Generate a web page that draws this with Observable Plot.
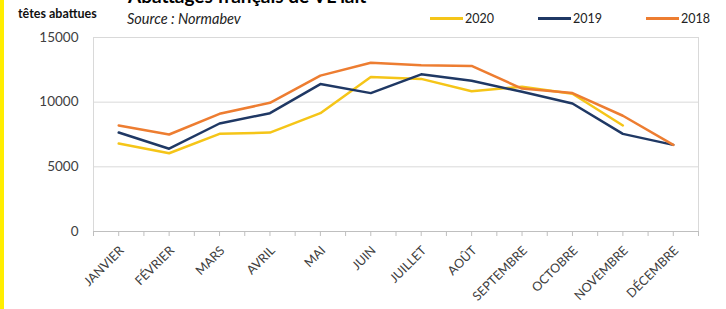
<!DOCTYPE html>
<html>
<head>
<meta charset="utf-8">
<script src="https://cdn.jsdelivr.net/npm/d3@7"></script>
<script src="https://cdn.jsdelivr.net/npm/@observablehq/plot@0.6"></script>
<style>
  html, body { margin: 0; padding: 0; background: #fff; }
  #wrap { position: relative; width: 726px; height: 309px; overflow: hidden; font-family: Lato, "Open Sans", sans-serif; }
  #bar { position: absolute; left: 0; top: 0; width: 4px; height: 309px; background: #ffee00; z-index: 2; }
  .abs { position: absolute; white-space: nowrap; z-index: 2; }
  #title { left: 128px; top: -16px; font-size: 19px; font-weight: bold; color: #000; }
  #unit { left: 18px; top: 6px; font-size: 12.5px; font-weight: bold; color: #111; }
  #source { left: 127px; top: 10px; font-size: 14.5px; font-style: italic; color: #222; }
  .leg { position: absolute; top: 11px; font-size: 12.5px; color: #222; display: flex; align-items: center; z-index: 2; }
  .sw { display: inline-block; width: 33px; height: 2.5px; margin-right: 2px; }
  #plot { position: absolute; left: 0; top: 0; }
</style>
</head>
<body>
<div id="wrap">
  <div id="bar"></div>
  <div id="title" class="abs">Abattages français de VL lait</div>
  <div id="unit" class="abs">têtes abattues</div>
  <div id="source" class="abs">Source : Normabev</div>
  <div id="legend"></div>
  <div id="plot"></div>
</div>
<script>
const months = ["JANVIER","FÉVRIER","MARS","AVRIL","MAI","JUIN","JUILLET","AOÛT","SEPTEMBRE","OCTOBRE","NOVEMBRE","DÉCEMBRE"];
const v2020 = [6800, 6050, 7550, 7650, 9150, 11950, 11800, 10850, 11200, 10650, 8200, null];
const v2019 = [7650, 6400, 8350, 9150, 11400, 10700, 12150, 11650, 10800, 9900, 7550, 6700];
const v2018 = [8200, 7500, 9100, 9950, 12050, 13050, 12850, 12800, 11050, 10700, 8950, 6700];
const years = ["2020", "2019", "2018"];
const colors = ["#f5c518", "#1f3864", "#ed7d31"];
const yTicks = [0, 5000, 10000, 15000];

const series = [v2020, v2019, v2018];
const data = [];
series.forEach((vals, s) => vals.forEach((v, i) => {
  if (v != null) data.push({year: years[s], i, value: v});
}));
const idx = months.map((m, i) => i);
const halfTicks = d3.range(-0.5, 12, 0.5);

// legend
const legX = [430, 538, 646];
const legend = document.getElementById("legend");
years.forEach((y, k) => {
  const d = document.createElement("div");
  d.className = "leg";
  d.style.left = legX[k] + "px";
  d.innerHTML = `<span class="sw" style="background:${colors[k]}"></span>${y}`;
  legend.appendChild(d);
});

const chart = Plot.plot({
  width: 726,
  height: 309,
  marginLeft: 93,
  marginRight: 28,
  marginTop: 37,
  marginBottom: 78,
  style: {fontFamily: "Lato, 'Open Sans', sans-serif", background: "transparent", overflow: "visible"},
  x: {type: "linear", domain: [-0.5, 11.5], axis: null, label: null},
  y: {domain: [0, 15000], axis: null, label: null},
  color: {domain: years, range: colors},
  marks: [
    Plot.gridY(yTicks, {stroke: "#d9d9d9", strokeOpacity: 1, strokeWidth: 1}),
    Plot.frame({stroke: "#d9d9d9"}),
    Plot.axisY(yTicks, {tickSize: 0, tickPadding: 15, fontSize: 13.5, fill: "#404040", label: null, tickFormat: d => String(d)}),
    Plot.axisX(halfTicks, {tickSize: 5, stroke: "#bfbfbf", label: null, tickFormat: () => ""}),
    Plot.ruleY([0], {stroke: "#bfbfbf"}),
    Plot.axisX(idx, {tickSize: 0, tickPadding: 13, dx: 3, dy: 4, tickRotate: -45, fontSize: 12.5, fill: "#404040", label: null, tickFormat: i => months[i]}),
    Plot.line(data, {x: "i", y: "value", z: "year", stroke: "year", strokeWidth: 2.5, strokeLinejoin: "round"})
  ]
});
document.getElementById("plot").appendChild(chart);
</script>
</body>
</html>
